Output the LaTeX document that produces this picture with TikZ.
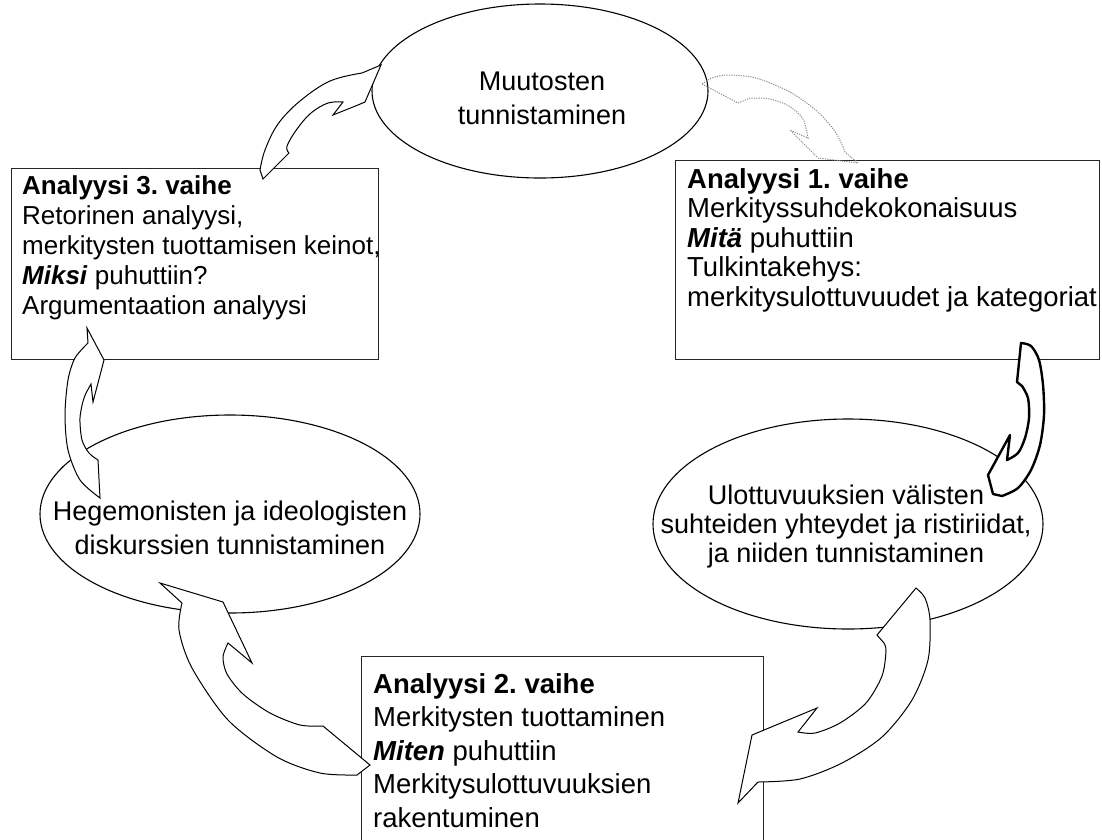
\documentclass[tikz,border=0pt]{standalone}
\usepackage{fontspec}
\setmainfont{Liberation Sans}
\usetikzlibrary{shapes.geometric}
\frenchspacing
\begin{document}
\begin{tikzpicture}[x=1pt,y=-1pt,
  stagebox/.style={draw=black!85, line width=1.2pt, fill=white, inner sep=0pt, anchor=north west},
  phase/.style={ellipse, draw=black, line width=1.1pt, fill=white, inner sep=0pt},
  boxtext/.style={inner sep=0pt, align=left, anchor=base west},
  ovaltext/.style={font=\fontsize{27}{33.5}\selectfont, inner sep=0pt, align=center, anchor=base},
  curvearrow/.style={draw=black, line width=1pt, fill=white, line join=miter},
  heavyarrow/.style={draw=black, line width=2.4pt, fill=white, line join=round},
  faintarrow/.style={draw=black!45, line width=1pt, dash pattern=on 1.2pt off 1.2pt, line join=miter}]
\useasboundingbox (0,0) rectangle (1102,839);
\clip (0,0) rectangle (1102,839);

% phases (ellipses); multi-line labels are placed by their last baseline
\node[phase, minimum width=336pt, minimum height=174pt] (ovTop) at (540,91) {};
\node[phase, minimum width=390pt, minimum height=210pt] (ovRight) at (848,524) {};
\node[phase, minimum width=380pt, minimum height=198pt] (ovLeft) at (230,514) {};

\node[ovaltext] (tTop) at (542,124) {Muutosten\\tunnistaminen};
\node[ovaltext, font=\fontsize{27}{29}\selectfont] (tRight) at (846,562) {Ulottuvuuksien välisten\\suhteiden yhteydet ja ristiriidat,\\ja niiden tunnistaminen};
\node[ovaltext] (tLeft) at (230,554) {Hegemonisten ja ideologisten\\diskurssien tunnistaminen};

% analysis stages (boxes)
\node[stagebox, minimum width=424pt, minimum height=199pt] (box1) at (675,160) {};
\node[stagebox, minimum width=367pt, minimum height=191pt] (box3) at (11,168) {};
\node[stagebox, minimum width=402pt, minimum height=210pt] (box2) at (361,656) {};

\node[boxtext, font=\fontsize{27.5}{29.5}\selectfont] (t1) at (687,306) {\textbf{Analyysi 1. vaihe}\\Merkityssuhdekokonaisuus\\\textbf{\textit{Mitä}} puhuttiin\\Tulkintakehys:\\merkitysulottuvuudet ja kategoriat};
\node[boxtext, font=\fontsize{26}{30}\selectfont] (t3) at (22,314) {\textbf{Analyysi 3. vaihe}\\Retorinen analyysi,\\merkitysten tuottamisen keinot,\\\textbf{\textit{Miksi}} puhuttiin?\\Argumentaation analyysi};
\node[boxtext, font=\fontsize{27.5}{33.5}\selectfont] (t2) at (373,827) {\textbf{Analyysi 2. vaihe}\\Merkitysten tuottaminen\\\textbf{\textit{Miten}} puhuttiin\\Merkitysulottuvuuksien\\rakentuminen};

% curved block arrows
% Analyysi 3 -> Muutosten tunnistaminen
\draw[curvearrow] (263,179) -- plot[smooth, tension=0.6] coordinates {(260,170) (265,150) (278,124) (300,101) (330,81) (362,73)}
  -- (381,65) -- (365,102) -- (358,105) -- (333,115) -- (343,102)
  -- plot[smooth, tension=0.6] coordinates {(343,102) (328,103) (311,113) (297,129) (287,146) (289,153)} -- cycle;

% Muutosten tunnistaminen -> Analyysi 1 (dotted)
\draw[faintarrow] plot[smooth] coordinates {(702,84) (712,78) (728,75) (756,78) (790,92) (818,112) (836,133) (845,152)}
  -- (858,163) -- (818,158) -- (790,130) -- (808,138)
  -- plot[smooth] coordinates {(808,138) (803,119) (789,106) (770,99) (750,98)} -- (738,103) -- cycle;

% Analyysi 1 -> Ulottuvuuksien ... (heavy outline)
\draw[heavyarrow] plot[smooth] coordinates {(1021,343) (1031,346) (1039,360) (1043,385) (1044,415) (1040,445) (1031,470) (1018,488) (1002,496)}
  -- (993,494) -- (988,475) -- (1010,435) -- (1007,460)
  -- plot[smooth] coordinates {(1007,460) (1018,453) (1025,438) (1029,418) (1028,398) (1022,386)} -- (1017,382) -- cycle;

% Ulottuvuuksien ... -> Analyysi 2
\draw[curvearrow] plot[smooth] coordinates {(916,588) (925,598) (930,620) (928,660) (912,700) (882,737) (842,763) (800,779) (758,782)}
  -- (738,803) -- (752,735) -- (817,708) -- (798,732)
  -- plot[smooth] coordinates {(798,732) (815,733) (840,723) (866,703) (882,676) (886,651) (884,643)} -- (877,635) -- cycle;

% Analyysi 2 -> Hegemonisten ...
\draw[curvearrow] (160,583) -- (223,602) -- (252,663) -- (228,643)
  -- plot[smooth] coordinates {(228,643) (223,657) (227,674) (243,694) (270,713) (300,725) (323,726)}
  -- (370,765) -- (357,775)
  -- plot[smooth] coordinates {(357,775) (320,773) (277,757) (228,720) (192,668) (179,630) (182,603)} -- cycle;

% Hegemonisten ... -> Analyysi 3
\draw[curvearrow] (87,328) -- (104,360) -- (93,402) -- (91,384)
  -- plot[smooth] coordinates {(91,384) (84,398) (80,418) (82,440) (89,453) (98,460)}
  -- (100,498)
  -- plot[smooth] coordinates {(100,498) (80,480) (68,450) (65,415) (68,380) (75,358) (88,343)} -- cycle;
\end{tikzpicture}
\end{document}
